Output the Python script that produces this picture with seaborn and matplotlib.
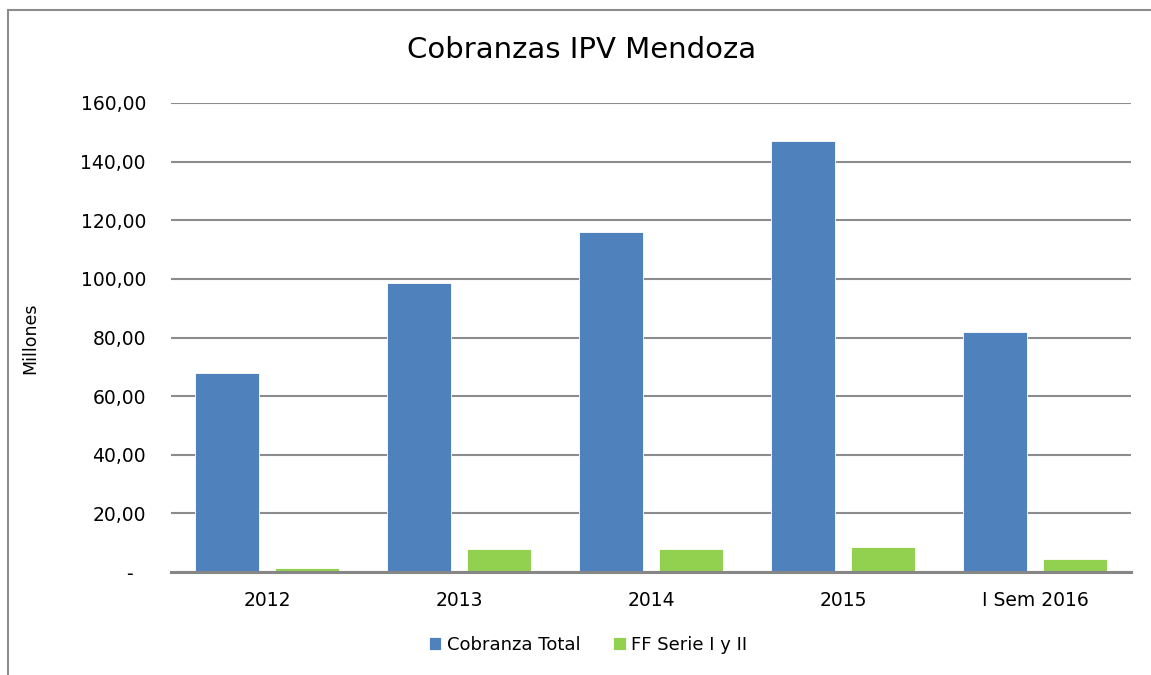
import matplotlib
matplotlib.use("Agg")
import matplotlib.pyplot as plt
import seaborn as sns
import pandas as pd
from matplotlib.patches import Rectangle

categories = ["2012", "2013", "2014", "2015", "I Sem 2016"]
cobranza_total = [67.9, 98.7, 116.0, 147.2, 81.9]
ff_serie = [1.3, 7.8, 7.8, 8.6, 4.4]
series_names = ["Cobranza Total", "FF Serie I y II"]
ytick_values = [0, 20, 40, 60, 80, 100, 120, 140, 160]
ytick_labels = ["-  ", "20,00", "40,00", "60,00", "80,00", "100,00", "120,00", "140,00", "160,00"]

df = pd.DataFrame({
    "cat": categories * 2,
    "serie": [series_names[0]] * 5 + [series_names[1]] * 5,
    "val": cobranza_total + ff_serie,
})

sns.set_theme(style="white")
plt.rcParams['font.family'] = ['DejaVu Sans']

fig = plt.figure(figsize=(11.51, 6.75), dpi=100)
ax = fig.add_axes([171/1151, 1 - 572/675, (1131-171)/1151, (572-103)/675])

sns.barplot(data=df, x="cat", y="val", hue="serie", order=categories,
            hue_order=series_names, palette=["#4F81BD", "#92D050"],
            width=0.84, gap=0.21, ax=ax, edgecolor="white", linewidth=0.6,
            saturation=1, legend=True, zorder=3)

ax.set_ylim(0, 160)
ax.set_xlim(-0.5, 4.5)
ax.set_yticks(ytick_values)
ax.set_yticklabels(ytick_labels)
ax.yaxis.grid(True, color="#8C8C8C", linewidth=1.5, zorder=0)
ax.set_axisbelow(True)
for s in ["top", "right", "left"]:
    ax.spines[s].set_visible(False)
ax.spines["bottom"].set_color("#868686")
ax.spines["bottom"].set_linewidth(2.2)
ax.spines["bottom"].set_zorder(5)
ax.tick_params(axis="both", length=0, labelsize=13.5, colors="black")
ax.tick_params(axis="y", pad=18)
ax.tick_params(axis="x", pad=14)
ax.set_xlabel("")
ax.set_ylabel("")

fig.text(30/1151, 1 - 338/675, "Millones", rotation=90, ha="center", va="center",
         fontsize=12.5, color="black", fontweight="medium")
fig.text(582/1151, 1 - 50/675, "Cobranzas IPV Mendoza", ha="center", va="center",
         fontsize=21, color="black")

leg = ax.legend(loc="center", bbox_to_anchor=(588/1151, 1 - 645/675),
                bbox_transform=fig.transFigure, ncol=2, frameon=False,
                fontsize=13, handlelength=0.7, handleheight=0.7,
                handletextpad=0.3, columnspacing=1.8, labelcolor="black")

fig.patches.append(Rectangle((8/1151, -0.1), 1.2, 1 - 10/675 + 0.1,
                             transform=fig.transFigure, fill=False,
                             edgecolor="#8C8C8C", linewidth=1.5))

fig.savefig("out.png", dpi=100)
